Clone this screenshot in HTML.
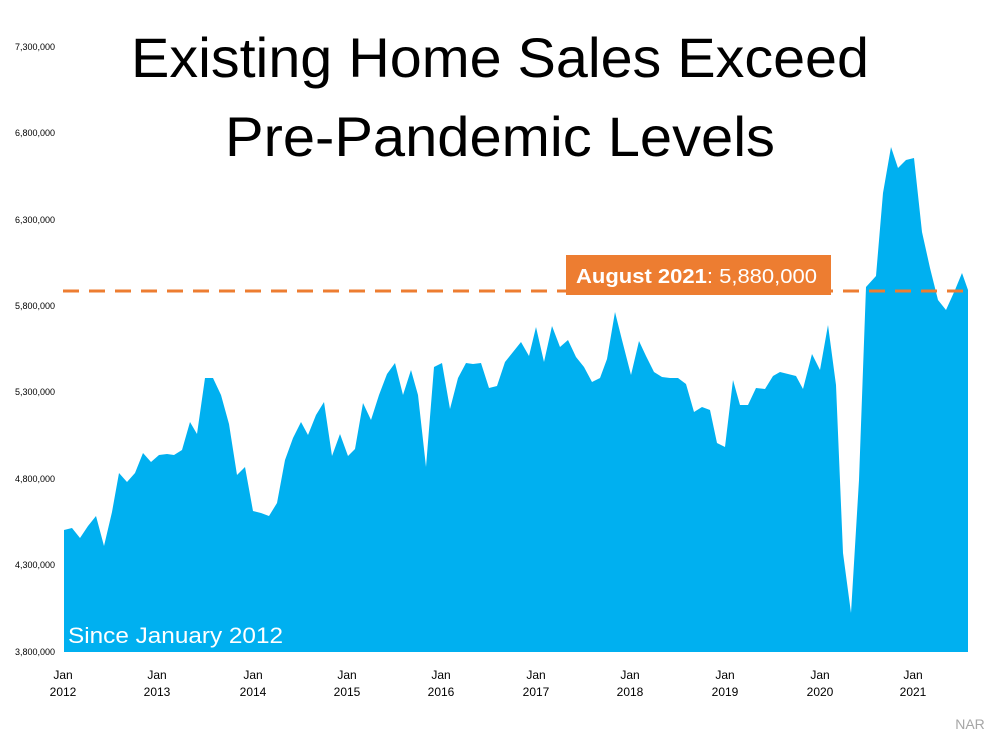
<!DOCTYPE html>
<html><head><style>body{margin:0;background:#fff}svg{display:block}</style></head><body>
<svg width="1000" height="750" viewBox="0 0 1000 750" xmlns="http://www.w3.org/2000/svg" font-family="Liberation Sans, sans-serif">
<rect width="1000" height="750" fill="#fff"/>
<polygon fill="#00B0F0" points="64,652 64,530 72,528 80,538 88,526 96,516 104,546 112,512 119,473 127,482 135,473 143,453 151,462 159,455 167,454 174,455 182,450 190,422 197,434 205,378 213,378 221,395 229,424 237,475 245,467 253,511 261,513 269,516 277,503 285,460 293,438 301,422 308,435 316,415 324,402 332,456 340,434 348,456 355,449 363,403 371,420 379,395 387,374 395,363 403,395 411,370 418,395 426,467 434,367 442,363 450,409 458,378 466,363 473,364 481,363 489,388 497,386 505,362 513,352 521,342 529,356 536,327 544,362 552,326 560,347 568,340 576,357 584,367 592,382 600,378 607,359 615,312 622,340 631,375 639,341 646,356 654,372 662,377 670,378 678,378 686,384 694,412 702,407 710,410 717,443 725,447 733,380 740,405 748,405 756,388 765,389 773,376 780,372 788,374 796,376 803,389 812,354 820,370 828,325 836,385 843,553 851,613 859,480 866,287 876,276 883,193 891,147 898,168 906,160 914,158 922,232 930,268 938,300 946,310 955,290 962,273 968,290 968,652"/>
<line x1="63" y1="291" x2="972" y2="291" stroke="#ED7D31" stroke-width="3" stroke-dasharray="16,10"/>
<rect x="566" y="255" width="265" height="40" fill="#ED7D31"/>
<text x="576" y="283" font-size="20" fill="#fff" textLength="241" lengthAdjust="spacingAndGlyphs"><tspan font-weight="bold">August 2021</tspan>: 5,880,000</text>
<text x="500" y="77" text-anchor="middle" font-size="56" textLength="738" lengthAdjust="spacingAndGlyphs" fill="#000">Existing Home Sales Exceed</text>
<text x="500" y="156" text-anchor="middle" font-size="56" textLength="550" lengthAdjust="spacingAndGlyphs" fill="#000">Pre-Pandemic Levels</text>
<text x="68" y="643" font-size="22" fill="#fff" textLength="215" lengthAdjust="spacingAndGlyphs">Since January 2012</text>
<g font-size="9" fill="#000" text-anchor="end">
<text x="55" y="50">7,300,000</text><text x="55" y="136">6,800,000</text><text x="55" y="223">6,300,000</text><text x="55" y="309">5,800,000</text><text x="55" y="395">5,300,000</text><text x="55" y="482">4,800,000</text><text x="55" y="568">4,300,000</text><text x="55" y="655">3,800,000</text>
</g>
<g font-size="12" fill="#000" text-anchor="middle">
<text x="63" y="679">Jan</text><text x="63" y="696">2012</text>
<text x="157" y="679">Jan</text><text x="157" y="696">2013</text>
<text x="253" y="679">Jan</text><text x="253" y="696">2014</text>
<text x="347" y="679">Jan</text><text x="347" y="696">2015</text>
<text x="441" y="679">Jan</text><text x="441" y="696">2016</text>
<text x="536" y="679">Jan</text><text x="536" y="696">2017</text>
<text x="630" y="679">Jan</text><text x="630" y="696">2018</text>
<text x="725" y="679">Jan</text><text x="725" y="696">2019</text>
<text x="820" y="679">Jan</text><text x="820" y="696">2020</text>
<text x="913" y="679">Jan</text><text x="913" y="696">2021</text>
</g>
<text x="970" y="729" font-size="14" fill="#A6A6A6" text-anchor="middle">NAR</text>
</svg>
</body></html>
